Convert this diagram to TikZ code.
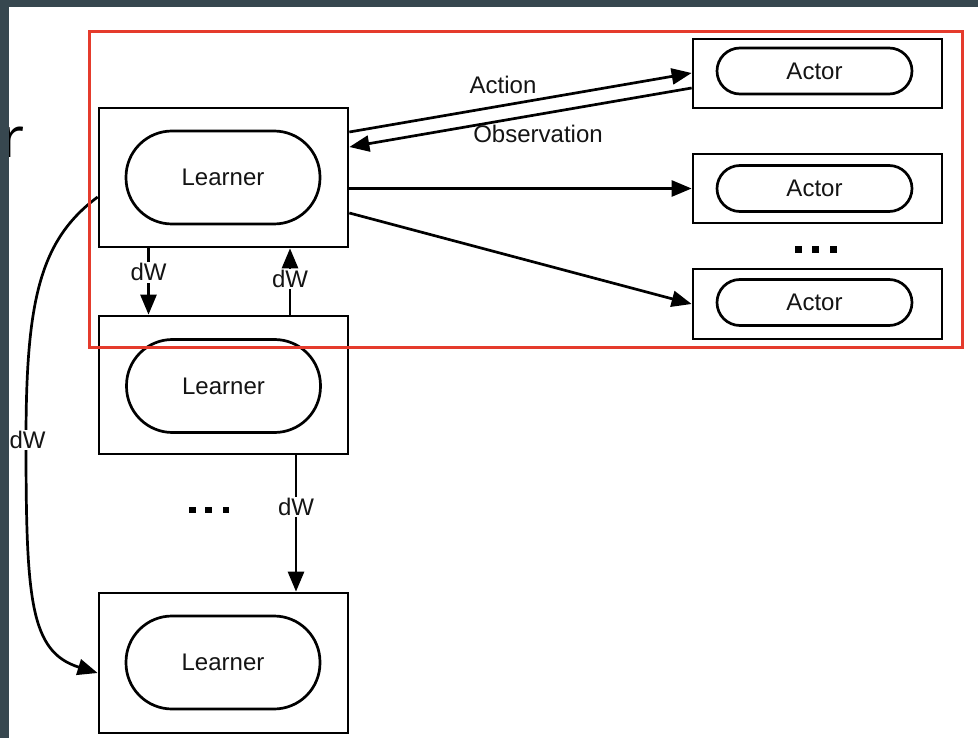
\documentclass[tikz,border=0pt]{standalone}
\usepackage{fontspec}
\setmainfont{Liberation Sans}
\newfontfamily\osans{Open Sans}
\usetikzlibrary{arrows.meta,calc}
\definecolor{framec}{HTML}{37474F}
\definecolor{redbox}{HTML}{E53B2C}
\begin{document}
\begin{tikzpicture}[x=1pt,y=-1pt,
  txt/.style={font=\fontsize{24}{28}\selectfont,text=black!92},
  outer/.style={draw,line width=2.7pt,minimum width=249pt,inner sep=0pt},
  lin/.style={draw,line width=2.7pt,rounded corners=46pt,minimum width=194pt,minimum height=93pt,inner sep=0pt,txt},
  ain/.style={draw,line width=2.7pt,rounded corners=23pt,minimum width=195pt,minimum height=46pt,inner sep=0pt,txt},
  conn/.style={line width=2.7pt,-{Triangle[length=20pt,width=16pt]}},
  lab/.style={fill=white,inner sep=1.5pt,txt},
  dotsq/.style={fill=black,minimum size=6.5pt,inner sep=0pt}
]
\useasboundingbox (0,0) rectangle (978,738);
\fill[white] (0,0) rectangle (978,738);
% partial slide text
\node[anchor=base west,inner sep=0pt,font=\osans\fontsize{56}{60}\selectfont,text=black] (rr) at (1.5,158) {r};
% learners
\node[outer,minimum height=139pt] (L1) at (223.5,177.5) {};
\node[lin] (L1i) at (223,177.5) {Learner};
\node[outer,minimum height=138pt] (L2) at (223.5,385) {};
\node[lin] (L2i) at (223.5,386) {Learner};
\node[outer,minimum height=140pt] (L3) at (223.5,663) {};
\node[lin] (L3i) at (223,662.5) {Learner};
% actors
\node[outer,minimum height=69pt] (A1) at (817.5,73.5) {};
\node[ain] (A1i) at (814.5,71) {Actor};
\node[outer,minimum height=69pt] (A2) at (817.5,188.5) {};
\node[ain] (A2i) at (814.5,188.5) {Actor};
\node[outer,minimum height=70pt] (A3) at (817.5,304) {};
\node[ain] (A3i) at (814.5,302.5) {Actor};
% dots
\node[dotsq] (d1) at (798.5,249.5) {};
\node[dotsq] (d2) at (815.5,249.5) {};
\node[dotsq] (d3) at (833.5,249.5) {};
\node[dotsq] (e1) at (192.5,510) {};
\node[dotsq] (e2) at (208.5,510) {};
\node[dotsq] (e3) at (226,510) {};
% learner-actor connectors
\draw[conn] ([yshift=45.5pt]L1.east) -- ([yshift=0.5pt]A1.west);
\draw[conn] ([yshift=-14.5pt]A1.west) -- ([yshift=30.5pt]L1.east);
\node[txt,inner sep=0pt] (act) at (503,85) {Action};
\node[txt,inner sep=0pt] (obs) at (538,134) {Observation};
\draw[conn] (L1.east |- A2.west) -- (A2.west);
\draw[conn] ([yshift=-35.5pt]L1.east) -- (A3.west);
% dW connectors
\draw[conn] ([xshift=-75pt]L1.south) -- node[lab,pos=0.36] (w1) {dW} ([xshift=-75pt]L2.north);
\draw[conn] ([xshift=66.5pt]L2.north) -- node[lab,pos=0.54] (w2) {dW} ([xshift=66.5pt]L1.south);
\draw[conn] ([xshift=72.5pt]L2.south) -- node[lab,pos=0.38] (w3) {dW} ([xshift=72.5pt]L3.north);
\draw[conn] ([yshift=-19.5pt]L1.west) .. controls (40,240) and (26,300) .. (26,440)
  .. controls (26,600) and (30,652) .. ([yshift=-10pt]L3.west);
\node[lab] (w4) at (27.5,440) {dW};
% red highlight
\draw[redbox,line width=3pt] (89.5,31.5) rectangle (962,347.5);
% slide frame
\fill[framec] (0,0) rectangle (8.5,738);
\fill[framec] (0,0) rectangle (978,7);
\end{tikzpicture}
\end{document}
